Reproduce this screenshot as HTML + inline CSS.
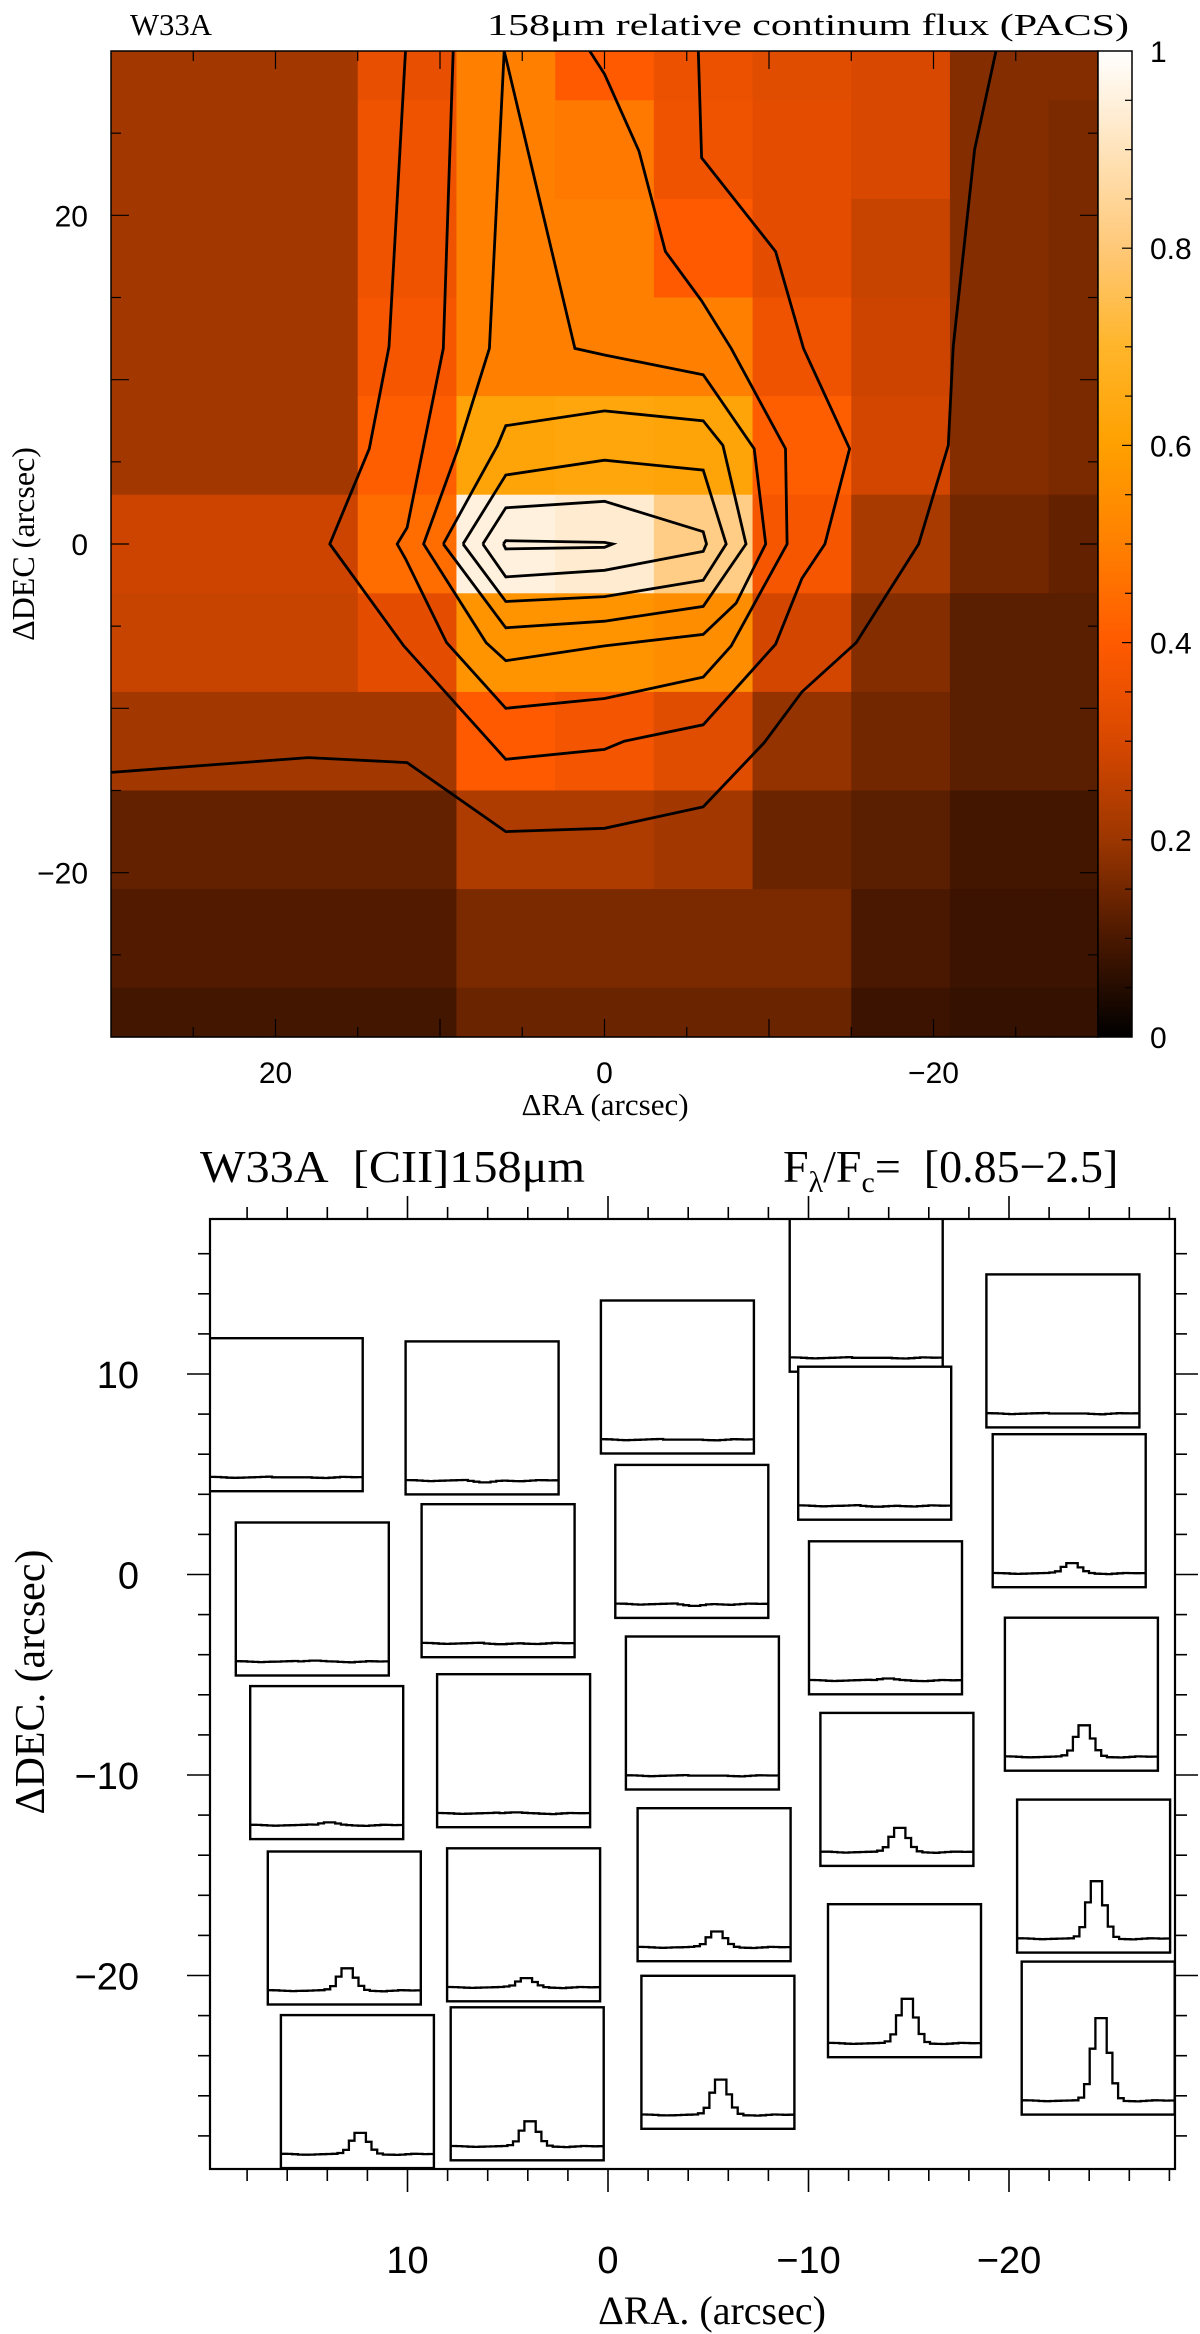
<!DOCTYPE html>
<html><head><meta charset="utf-8"><title>W33A PACS</title>
<style>
html,body{margin:0;padding:0;background:#fff;}
svg{display:block;}
text{fill:#000;}
</style></head>
<body>
<svg id="svg" width="1200" height="2334" viewBox="0 0 1200 2334" xmlns="http://www.w3.org/2000/svg">
  <g id="topPanel"></g>
  <g id="botPanel"></g>
</svg>
<script>
// ---------------- Top panel data ----------------
const raCenters = [30,24,18,12,6,0,-6,-12,-18,-24,-30];
const decCenters = [30,24,18,12,6,0,-6,-12,-18,-24,-30];
const fluxRow30  = [0.21,0.21,0.21,0.34,0.50,0.40,0.35,0.32,0.30,0.17,0.17];
const fluxRow24  = [0.21,0.21,0.21,0.36,0.50,0.48,0.36,0.33,0.30,0.17,0.16];
const fluxRow18  = [0.21,0.21,0.21,0.36,0.50,0.50,0.40,0.33,0.27,0.17,0.16];
const fluxRow12  = [0.21,0.21,0.21,0.38,0.50,0.50,0.50,0.36,0.28,0.17,0.16];
const fluxRow6   = [0.21,0.21,0.21,0.41,0.62,0.63,0.62,0.41,0.29,0.17,0.16];
const fluxRow0   = [0.28,0.28,0.28,0.45,0.95,0.93,0.82,0.38,0.22,0.15,0.13];
const fluxRowM6  = [0.27,0.27,0.27,0.33,0.56,0.56,0.54,0.29,0.17,0.12,0.12];
const fluxRowM12 = [0.21,0.21,0.21,0.21,0.40,0.37,0.32,0.19,0.15,0.12,0.12];
const fluxRowM18 = [0.13,0.13,0.13,0.13,0.23,0.23,0.21,0.14,0.12,0.09,0.09];
const fluxRowM24 = [0.11,0.11,0.11,0.11,0.16,0.16,0.16,0.16,0.10,0.08,0.08];
const fluxRowM30 = [0.09,0.09,0.09,0.09,0.14,0.14,0.14,0.14,0.08,0.07,0.07];
const fluxRows = [fluxRow30,fluxRow24,fluxRow18,fluxRow12,fluxRow6,fluxRow0,fluxRowM6,fluxRowM12,fluxRowM18,fluxRowM24,fluxRowM30];

// contour polylines (RA, DEC in arcsec)
const contour1 = [[30,-13.9],[18,-13.0],[12,-13.3],[6,-17.5],[0,-17.3],[-6,-16.0],[-9.7,-12.1],[-12,-9.0],[-15.3,-6.0],[-19.1,0],[-20.9,6.0],[-21.2,12.0],[-22.5,24.0],[-23.8,30]];
const contour2 = [[12.1,30],[13.1,12.0],[14.3,5.8],[16.7,0],[12.2,-6.2],[6,-13.1],[0,-12.5],[-1.2,-12],[-6,-11],[-10.4,-6.1],[-12,-2.1],[-13.4,0],[-14.9,5.8],[-12.1,11.9],[-10.4,17.8],[-5.9,23.5],[-5.7,30]];
const contour3 = [[9.2,30],[9.8,11.9],[12.0,1.0],[12.6,0],[12.1,-0.9],[9.6,-6],[6,-10],[0,-9.4],[-6,-8.1],[-7.7,-6.2],[-11.1,0],[-11,5.8],[-7.7,11.9],[-5.9,14.8],[-3.7,17.8],[-2.1,23.9],[0,28.6],[0.9,30]];
const contour4 = [[6.1,30],[7.0,11.9],[8.9,5.8],[11.0,0],[7.2,-6.0],[6.0,-7.1],[0,-6.2],[-6,-5.5],[-8,-3.6],[-9.8,0],[-9.1,5.8],[-6,10.3],[0,11.5],[1.8,11.9],[6.1,30]];
const contour5 = [[9.8,0],[6.5,6],[6,7.2],[0,8.1],[-6,7.5],[-7.2,6],[-8.6,0],[-6,-3.8],[0,-4.7],[6,-5.1],[9.8,0]];
const contour6 = [[8.6,0],[6,4.2],[0,5.1],[-6,4.5],[-7.4,0],[-6,-2.2],[0,-3.2],[6,-3.5],[8.6,0]];
const contour7 = [[7.4,0],[6,2.2],[0,2.6],[-6,0.75],[-6.2,0],[-6,-0.45],[0,-1.6],[6,-2.0],[7.4,0]];
const contour8 = [[6.15,0],[6,0.2],[0,0.1],[-0.5,0],[0,-0.2],[6,-0.3],[6.15,0]];
const contours = [contour1,contour2,contour3,contour4,contour5,contour6,contour7,contour8];

const topXTicks = [20,0,-20];
const topYTicks = [20,0,-20];
const cbarTicks = [0,0.2,0.4,0.6,0.8,1];
const cbarLabels = ["0","0.2","0.4","0.6","0.8","1"];

// ---------------- Bottom panel data ----------------
const boxRA  = [16.05,14.75,14.03,13.15,12.50, 6.28,5.48,4.71,4.21,4.03, -3.46,-4.18,-4.71,-5.29,-5.48, -12.88,-13.30,-13.84,-14.41,-14.79, -22.69,-23.0,-23.61,-24.22,-24.45];
const boxDEC = [7.97,-1.22,-9.38,-17.63,-25.79, 7.81,-0.31,-8.79,-17.47,-25.40, 9.85,1.65,-6.91,-15.47,-23.83, 13.93,6.55,-2.16,-10.72,-20.26, 11.15,3.18,-5.97,-15.04,-23.12];
const linePeak = [0,0.01,0.03,0.24,0.23, -0.02,-0.01,0.01,0.10,0.27, 0,-0.02,0,0.17,0.38, 0,-0.01,0.02,0.26,0.48, 0,0.11,0.34,0.62,0.89];
const lineShape = [0,0,0,0,0,0,0,0,0,0,0.03,0.2,0.63,1,1,0.58,0.21,0.03,0,0,0,0,0,0,0,0,0];
const baseRipple = [0.004,0.003,0.0,-0.004,-0.006,-0.004,-0.002,0.0,0.002,0.004,0.006,0,0,0,0,0,0,0.0,-0.004,-0.006,-0.008,-0.004,0.0,0.004,0.003,0.001,0.002];
const botXTicks = [10,0,-10,-20];
const botXLabels = ["10","0","\u221210","\u221220"];
const botYTicks = [10,0,-10,-20];
const botYLabels = ["10","0","\u221210","\u221220"];
const fluxMin = 0.85, fluxMax = 2.5;

// ---------------- helpers ----------------
const NS = "http://www.w3.org/2000/svg";
function mk(tag, attrs, parent){
  const e = document.createElementNS(NS, tag);
  for (const k in attrs) e.setAttribute(k, attrs[k]);
  parent.appendChild(e);
  return e;
}
const cmStops = [[0,[0,0,0]],[0.1,[74,24,0]],[0.2,[156,54,0]],[0.3,[216,72,0]],[0.4,[255,90,0]],[0.5,[255,128,0]],[0.6,[255,160,0]],[0.7,[255,181,42]],[0.8,[255,200,120]],[0.9,[255,227,187]],[1,[255,255,255]]];
function cmap(v){
  v = Math.max(0, Math.min(1, v));
  for (let i=1;i<cmStops.length;i++){
    if (v <= cmStops[i][0]){
      const a=cmStops[i-1], b=cmStops[i], t=(v-a[0])/(b[0]-a[0]);
      const c=a[1].map((x,k)=>Math.round(x+(b[1][k]-x)*t));
      return `rgb(${c[0]},${c[1]},${c[2]})`;
    }
  }
  return "#fff";
}

// ---------------- Top panel ----------------
const topG = document.getElementById('topPanel');
const TL=111, TR=1098, TT=51, TB=1037;
const tx = ra => 604.5 - ra*(TR-TL)/60;
const ty = dec => 544 - dec*(TB-TT)/60;

const heat = mk('g', {}, topG);


for (let i=0;i<decCenters.length;i++){
  for (let j=0;j<raCenters.length;j++){
    const r0 = Math.min(30, raCenters[j]+3), r1 = Math.max(-30, raCenters[j]-3);
    const d0 = Math.min(30, decCenters[i]+3), d1 = Math.max(-30, decCenters[i]-3);
    const x0 = tx(r0), x1 = tx(r1), y0 = ty(d0), y1 = ty(d1);
    const c = mk('rect', {x:x0.toFixed(2), y:y0.toFixed(2), width:(x1-x0+0.6).toFixed(2), height:(y1-y0+0.6).toFixed(2), fill:cmap(fluxRows[i][j])}, heat);
    
    
  }
}
const clipT = mk('clipPath', {id:'topclip'}, topG);
mk('rect', {x:TL, y:TT, width:TR-TL, height:TB-TT}, clipT);
const cg = mk('g', {'clip-path':'url(#topclip)'}, topG);


contours.forEach(cn => {
  const p = mk('polyline', {points: cn.map(q => tx(q[0]).toFixed(1)+','+ty(q[1]).toFixed(1)).join(' '), fill:'none', stroke:'#000', 'stroke-width':2.8, 'stroke-linejoin':'miter'}, cg);
  
  
});
const tframe = mk('rect', {x:TL, y:TT, width:TR-TL, height:TB-TT, fill:'none', stroke:'#000', 'stroke-width':1.5}, topG);


const tt = mk('g', {stroke:'#000', 'stroke-width':1.2}, topG);


for (let v=-25; v<=25; v+=5){
  const L = (v%10===0)?18:10;
  mk('line', {x1:tx(v), y1:TT, x2:tx(v), y2:TT+L}, tt);
  mk('line', {x1:tx(v), y1:TB, x2:tx(v), y2:TB-L}, tt);
  mk('line', {x1:TL, y1:ty(v), x2:TL+L, y2:ty(v)}, tt);
  mk('line', {x1:TR, y1:ty(v), x2:TR-L, y2:ty(v)}, tt);
}
topXTicks.forEach(v => {
  const t = mk('text', {x:tx(v), y:1083, 'font-family':'Liberation Sans, sans-serif', 'font-size':30, 'text-anchor':'middle'}, topG);
  t.textContent = v<0 ? '\u2212'+(-v) : String(v);
  
  
});
topYTicks.forEach(v => {
  const t = mk('text', {x:88, y:ty(v)+11, 'font-family':'Liberation Sans, sans-serif', 'font-size':30, 'text-anchor':'end'}, topG);
  t.textContent = v<0 ? '\u2212'+(-v) : String(v);
  
  
});
// colorbar
const CL=1098, CR=1132;
const defsT = mk('defs', {}, topG);
const grad = mk('linearGradient', {id:'cbg', x1:0, y1:1, x2:0, y2:0}, defsT);
for (let k=0;k<=20;k++){ mk('stop', {offset:(k/20), 'stop-color':cmap(k/20)}, grad); }
const cb = mk('rect', {x:CL, y:TT, width:CR-CL, height:TB-TT, fill:'url(#cbg)', stroke:'#000', 'stroke-width':1.5}, topG);


const cby = v => TB - v*(TB-TT);
for (let k=1;k<20;k++){
  const v=k/20, L=(k%4===0)?10:7;
  mk('line', {x1:CR, y1:cby(v), x2:CR-L, y2:cby(v), stroke:'#000', 'stroke-width':1.2}, topG);
}
cbarTicks.forEach((v,i) => {
  const t = mk('text', {x:1150, y:cby(v)+11, 'font-family':'Liberation Sans, sans-serif', 'font-size':30}, topG);
  t.textContent = cbarLabels[i];
  
  
});

// titles
let e1 = mk('text', {x:130, y:35, 'font-family':'Liberation Serif, serif', 'font-size':31, textLength:82, lengthAdjust:'spacingAndGlyphs'}, topG);
e1.textContent = 'W33A';


e1 = mk('text', {x:487, y:35, 'font-family':'Liberation Serif, serif', 'font-size':31, textLength:642, lengthAdjust:'spacingAndGlyphs'}, topG);
e1.textContent = '158\u03bcm relative continum flux (PACS)';


e1 = mk('text', {x:605, y:1115, 'font-family':'Liberation Serif, serif', 'font-size':31, 'text-anchor':'middle'}, topG);
e1.textContent = '\u0394RA (arcsec)';


e1 = mk('text', {x:0, y:0, 'font-family':'Liberation Serif, serif', 'font-size':32, 'text-anchor':'middle', transform:'translate(34,544) rotate(-90)'}, topG);
e1.textContent = '\u0394DEC (arcsec)';



// ---------------- Bottom panel ----------------
const botG = document.getElementById('botPanel');
const BL=210, BR=1175, BT=1219, BB=2169;
const S = 20.05;
const bx = ra => 608 - ra*S;
const by = dec => 1574.5 - dec*S;
const boxW = 153, boxH = 153;
const clipB = mk('clipPath', {id:'botclip'}, botG);
mk('rect', {x:BL, y:BT, width:BR-BL, height:BB-BT}, clipB);
const sgAll = mk('g', {'clip-path':'url(#botclip)'}, botG);


for (let i=0;i<boxRA.length;i++){
  const cx = bx(boxRA[i]), cyy = by(boxDEC[i]);
  const x0 = cx - boxW/2, y0 = cyy - boxH/2;
  const sg = mk('g', {}, sgAll);
  
  
  mk('rect', {x:x0.toFixed(1), y:y0.toFixed(1), width:boxW, height:boxH, fill:'#fff', stroke:'#000', 'stroke-width':2.4}, sg);
  const n = lineShape.length, cw = boxW/n;
  const fy = f => y0 + boxH - (f - fluxMin)/(fluxMax - fluxMin)*boxH;
  const pts = [];
  for (let k=0;k<n;k++){
    const f = 1 + linePeak[i]*lineShape[k] + baseRipple[k];
    const yy = fy(f).toFixed(1);
    pts.push((x0+k*cw).toFixed(1)+','+yy);
    pts.push((x0+(k+1)*cw).toFixed(1)+','+yy);
  }
  const pl = mk('polyline', {points:pts.join(' '), fill:'none', stroke:'#000', 'stroke-width':2.3}, sg);
  
  
}
const fr = mk('rect', {x:BL, y:BT, width:BR-BL, height:BB-BT, fill:'none', stroke:'#000', 'stroke-width':2.2}, botG);


const tk = mk('g', {stroke:'#000', 'stroke-width':1.6}, botG);


for (let v=-28; v<=20; v+=2){
  const x = bx(v); if (x < BL-0.5 || x > BR+0.5) continue;
  const L = (v%10===0)?23:12;
  mk('line', {x1:x, y1:BT, x2:x, y2:BT-L}, tk);
  mk('line', {x1:x, y1:BB, x2:x, y2:BB+L}, tk);
}
for (let v=-28; v<=18; v+=2){
  const y = by(v); if (y < BT-0.5 || y > BB+0.5) continue;
  const L = (v%10===0)?23:12;
  mk('line', {x1:BL, y1:y, x2:BL-L, y2:y}, tk);
  mk('line', {x1:BR, y1:y, x2:BR+L, y2:y}, tk);
}
botXTicks.forEach((v,i) => {
  const t = mk('text', {x:bx(v), y:2273, 'font-family':'Liberation Sans, sans-serif', 'font-size':38, 'text-anchor':'middle'}, botG);
  t.textContent = botXLabels[i];
  
  
});
botYTicks.forEach((v,i) => {
  const t = mk('text', {x:139, y:by(v)+14, 'font-family':'Liberation Sans, sans-serif', 'font-size':38, 'text-anchor':'end'}, botG);
  t.textContent = botYLabels[i];
  
  
});
let e2 = mk('text', {x:200, y:1182, 'font-family':'Liberation Serif, serif', 'font-size':46, textLength:385, lengthAdjust:'spacingAndGlyphs', 'xml:space':'preserve'}, botG);
e2.textContent = 'W33A\u00a0 [CII]158\u03bcm';


e2 = mk('text', {x:783, y:1182, 'font-family':'Liberation Serif, serif', 'font-size':46}, botG);


const s1 = mk('tspan', {}, e2); s1.textContent = 'F';
const s2 = mk('tspan', {'font-size':30, dy:10}, e2); s2.textContent = '\u03bb';
const s3 = mk('tspan', {dy:-10}, e2); s3.textContent = '/F';
const s4 = mk('tspan', {'font-size':30, dy:10}, e2); s4.textContent = 'c';
const s5 = mk('tspan', {dy:-10}, e2); s5.textContent = '= \u00a0[0.85\u22122.5]';
e2 = mk('text', {x:712, y:2324, 'font-family':'Liberation Serif, serif', 'font-size':40, 'text-anchor':'middle'}, botG);
e2.textContent = '\u0394RA. (arcsec)';


e2 = mk('text', {x:0, y:0, 'font-family':'Liberation Serif, serif', 'font-size':42, 'text-anchor':'middle', transform:'translate(44,1682) rotate(-90)'}, botG);
e2.textContent = '\u0394DEC. (arcsec)';


</script>
</body></html>
